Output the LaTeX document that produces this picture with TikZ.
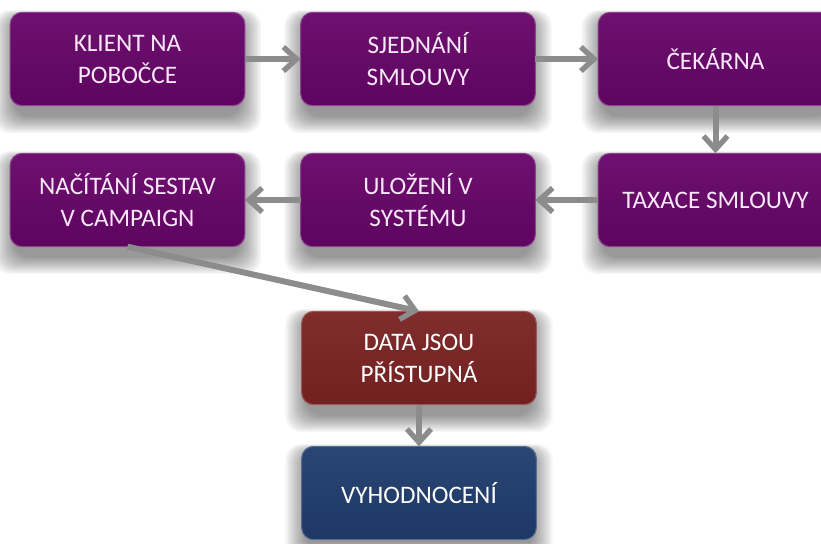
\documentclass[tikz,border=0pt]{standalone}
\usepackage{fontspec}
\setmainfont{Carlito}
\usetikzlibrary{arrows.meta,backgrounds}

\definecolor{cFial}{RGB}{102,4,104}
\definecolor{cHned}{RGB}{122,34,34}
\definecolor{cModr}{RGB}{31,60,108}
\definecolor{cSipka}{RGB}{140,140,140}
\definecolor{cPismo}{RGB}{250,232,250}

\tikzset{
  krok/.style={rectangle, rounded corners=9pt, outer sep=0pt,
    minimum width=176pt, minimum height=70pt, align=center,
    text=cPismo, font=\fontsize{18.9}{24}\selectfont,
    draw=#1!75!white, line width=0.8pt,
    top color=#1!95!white, bottom color=#1!93!black},
  stin/.style={fill=black, opacity=0.03, rounded corners=12pt},
  sipka/.style={draw=cSipka, line width=4.5pt,
    -{Straight Barb[length=10pt, width=18pt, line width=4pt]}}
}

\begin{document}
\begin{tikzpicture}[x=0.75pt, y=-0.75pt]

%% Frame: the picture is 821 x 543 px, one unit per pixel.
\useasboundingbox (0,0) rectangle (821,543);
\clip (0,0) rectangle (821,543);

%% Columns and rows.
\def\xa{127.5}
\def\xb{418}
\def\xc{715.5}
\def\ya{59}
\def\yb{200}

%% ---------- first row ----------
\node[krok=cFial] (klient)  at (\xa,\ya) {KLIENT NA\\POBOČCE};
\node[krok=cFial] (sjednani) at (\xb,\ya) {SJEDNÁNÍ\\SMLOUVY};
\node[krok=cFial] (cekarna) at (\xc,\ya) {ČEKÁRNA};

%% ---------- second row, read right to left ----------
\node[krok=cFial] (taxace)  at (\xc,\yb) {TAXACE SMLOUVY};
\node[krok=cFial] (ulozeni) at (\xb,\yb) {ULOŽENÍ V\\SYSTÉMU};
\node[krok=cFial] (nacitani) at (\xa,\yb) {NAČÍTÁNÍ SESTAV\\V CAMPAIGN};

%% ---------- result ----------
\node[krok=cHned, text=white] (data)  at (419,358) {DATA JSOU\\PŘÍSTUPNÁ};
\node[krok=cModr, text=white] (vyhod) at (419,493) {VYHODNOCENÍ};

%% ---------- soft shadows under every box ----------
\begin{scope}[on background layer]
  \fill[white] (0,0) rectangle (821,543);
  \foreach \n in {klient,sjednani,cekarna,taxace,ulozeni,nacitani,data,vyhod}
    \foreach \k in {0,...,14}
      \fill[stin]
        ([xshift=3pt-\k*1.1pt, yshift=-8pt-\k*0.9pt]\n.south west) rectangle
        ([xshift=\k*1.1pt-3pt, yshift=\k*0.4pt-4pt]\n.north east);
\end{scope}

%% ---------- connectors ----------
\draw[sipka] (klient) -- (sjednani);
\draw[sipka] (sjednani) -- (cekarna);
\draw[sipka] (cekarna) -- (taxace);
\draw[sipka] (taxace) -- (ulozeni);
\draw[sipka] (ulozeni) -- (nacitani);
\draw[sipka] (nacitani.south) -- (data.north);
\draw[sipka] (data) -- (vyhod);

\end{tikzpicture}
\end{document}
